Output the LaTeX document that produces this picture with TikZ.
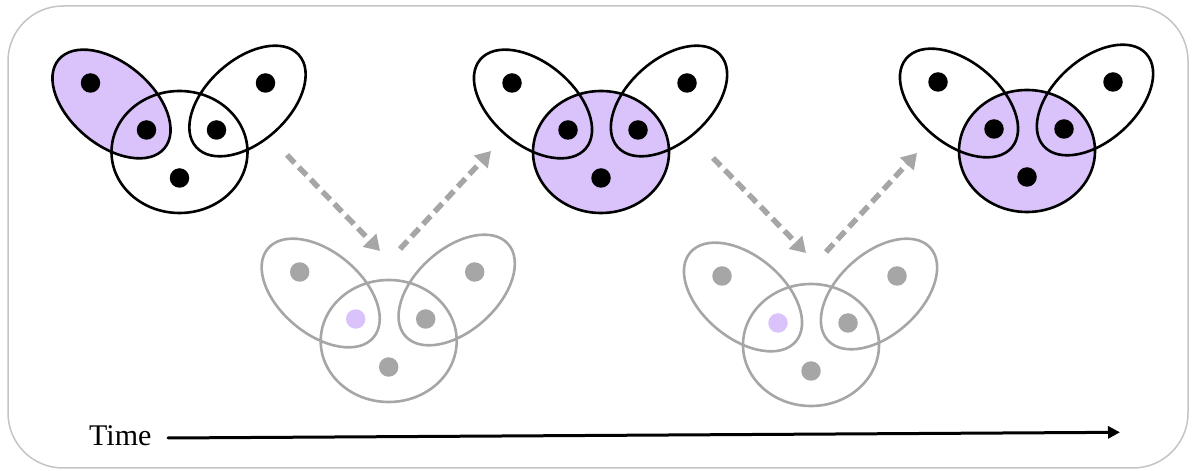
\documentclass[tikz,border=0pt]{standalone}
\usepackage{fontspec}
\setmainfont{Liberation Serif}
\usetikzlibrary{arrows.meta,positioning}
\definecolor{hgpurple}{RGB}{217,195,250}
\definecolor{hggray}{RGB}{166,166,166}
\definecolor{hgframe}{RGB}{196,196,196}
\tikzset{
  every picture/.append style={line cap=round,line join=round},
  hg edge/.style={line width=2.6pt},
  hg vertex/.style={circle,inner sep=0pt,minimum size=19.5pt},
  hg flow/.style={hggray,line width=5.5pt,line cap=butt,dash pattern=on 11pt off 6pt,-{Triangle[length=15pt,width=18pt]}},
  hg time/.style={line width=3pt,-{Triangle[length=12pt,width=12pt]}},
  hg frame/.style={hgframe,line width=1.5pt,rounded corners=55pt},
  hg note/.style={font=\fontsize{30}{36}\selectfont,inner sep=0pt,anchor=base west}
}

\begin{document}
\begin{tikzpicture}[x=1pt,y=1pt]
  \useasboundingbox (0,0) rectangle (1195,471);
  \draw[hg frame] (8,3) rectangle (1188,465);
  % five snapshots of the hypergraph
  \foreach \n/\cx/\cy/\lf/\cf/\lc/\dc/\ic in {
      one/179.5/319/hgpurple/none/black/black/black,
      two/601/319/none/hgpurple/black/black/black,
      three/1027/320/none/hgpurple/black/black/black,
      four/388.7/130/none/none/hggray/hggray/hgpurple,
      five/811/126/none/none/hggray/hggray/hgpurple} {
    \begin{scope}[shift={(\cx,\cy)}]
      \path[fill=\lf] (-68,48) circle [x radius=69pt,y radius=41pt,rotate=-40];
      \path[fill=\cf] (0,0) circle [x radius=68pt,y radius=61pt];
      \draw[hg edge,\lc] (-68,48) circle [x radius=69pt,y radius=41pt,rotate=-40]
        (68,51) circle [x radius=69pt,y radius=41pt,rotate=42]
        (0,0) circle [x radius=68pt,y radius=61pt];
      \node[hg vertex,fill=\dc] (\n-a) at (-89,69) {};
      \node[hg vertex,fill=\ic] (\n-b) at (-33,22) {};
      \node[hg vertex,fill=\dc] (\n-c) at (37,22) {};
      \node[hg vertex,fill=\dc] (\n-d) at (86,69) {};
      \node[hg vertex,fill=\dc] (\n-e) at (0,-26) {};
    \end{scope}
  }
  % transitions
  \coordinate (f1-a) at (287,316);
  \coordinate (f1-b) at (380,220);
  \coordinate (f2-a) at (400,222);
  \coordinate (f2-b) at (491,320);
  \coordinate (f3-a) at (713,313);
  \coordinate (f3-b) at (806,218);
  \coordinate (f4-a) at (826,219);
  \coordinate (f4-b) at (917,318);
  \foreach \i in {1,...,4}
    \draw[hg flow] (f\i-a) -- (f\i-b);
  % time axis
  \node[hg note] (tlabel) at (89,25) {Time};
  \coordinate (t0) at (168,33);
  \coordinate (t1) at (1120,38.7);
  \draw[hg time] (t0) -- (t1);
\end{tikzpicture}
\end{document}
